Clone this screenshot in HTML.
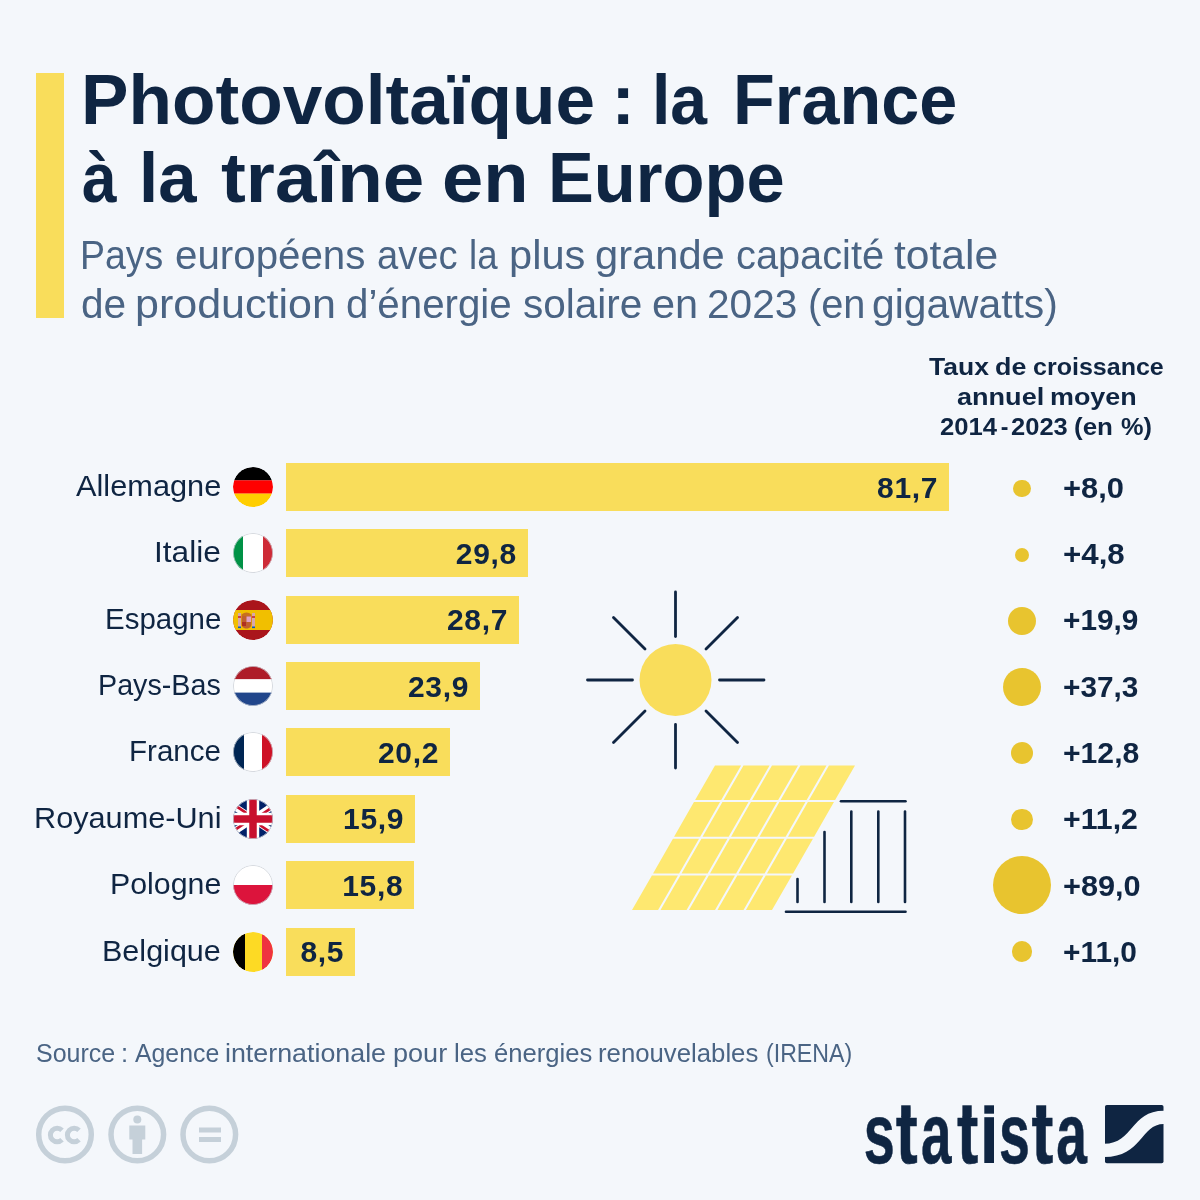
<!DOCTYPE html>
<html lang="fr">
<head>
<meta charset="utf-8">
<title>Photovoltaïque : la France à la traîne en Europe</title>
<style>
html,body{margin:0;padding:0;}
body{width:1200px;height:1200px;background:#f4f7fb;position:relative;overflow:hidden;font-family:"Liberation Sans",sans-serif;color:#0f2542;}
.abs{position:absolute;white-space:nowrap;}
#wrap{position:absolute;left:0;top:0;width:1200px;height:1200px;will-change:transform;}
#accent{left:36px;top:73px;width:28px;height:245px;background:#f9dd5b;}
.tw{position:absolute;white-space:nowrap;font-size:70px;font-weight:700;line-height:80px;color:#0f2542;transform-origin:0 0;}
.sw{position:absolute;white-space:nowrap;font-size:40px;line-height:48px;color:#4a6484;transform-origin:0 0;}
.hw{position:absolute;white-space:nowrap;font-size:23px;font-weight:700;line-height:30px;color:#0f2542;transform-origin:0 0;}
.lbl{position:absolute;font-size:30px;line-height:48px;margin-top:-1px;color:#0f2542;white-space:nowrap;transform-origin:0 0;}
.flag{position:absolute;left:233px;width:40px;height:40px;border-radius:50%;overflow:hidden;}
.bar{position:absolute;left:286px;height:48px;background:#f9dd5b;}
.val{position:absolute;white-space:nowrap;right:10.8px;top:0.5px;font-size:30px;font-weight:700;line-height:48px;letter-spacing:0.7px;color:#0f2542;}
.bub{position:absolute;border-radius:50%;background:#e8c42f;}
.gr{position:absolute;font-size:30px;font-weight:700;line-height:48px;transform-origin:0 0;white-space:nowrap;color:#0f2542;}
.srw{position:absolute;white-space:nowrap;top:1038.5px;font-size:25.5px;color:#4a6484;transform-origin:0 0;}
</style>
</head>
<body>
<div id="wrap">
<div id="accent" class="abs"></div>
<div class="tw" style="left:80.97px;top:60px;transform:scaleX(1.0170)">Photovoltaïque</div>
<div class="tw" style="left:611.38px;top:60px;transform:scaleX(1.0000)">:</div>
<div class="tw" style="left:651.76px;top:60px;transform:scaleX(0.9447)">la</div>
<div class="tw" style="left:732.66px;top:60px;transform:scaleX(0.9768)">France</div>
<div class="tw" style="left:81.74px;top:138px;transform:scaleX(0.8907)">à</div>
<div class="tw" style="left:138.62px;top:138px;transform:scaleX(0.9843)">la</div>
<div class="tw" style="left:220.90px;top:138px;transform:scaleX(1.0667)">traîne</div>
<div class="tw" style="left:442.39px;top:138px;transform:scaleX(1.0595)">en</div>
<div class="tw" style="left:548.34px;top:138px;transform:scaleX(0.9812)">Europe</div>
<div class="sw" style="left:80.36px;top:231px;transform:scaleX(0.9353)">Pays</div>
<div class="sw" style="left:174.54px;top:231px;transform:scaleX(1.0073)">européens</div>
<div class="sw" style="left:376.83px;top:231px;transform:scaleX(0.9529)">avec</div>
<div class="sw" style="left:468.88px;top:231px;transform:scaleX(0.9158)">la</div>
<div class="sw" style="left:509.10px;top:231px;transform:scaleX(1.0403)">plus</div>
<div class="sw" style="left:595.28px;top:231px;transform:scaleX(1.0421)">grande</div>
<div class="sw" style="left:735.56px;top:231px;transform:scaleX(0.9938)">capacité</div>
<div class="sw" style="left:894.07px;top:231px;transform:scaleX(1.0649)">totale</div>
<div class="sw" style="left:80.52px;top:280px;transform:scaleX(1.0146)">de</div>
<div class="sw" style="left:135.41px;top:280px;transform:scaleX(1.0757)">production</div>
<div class="sw" style="left:346.14px;top:280px;transform:scaleX(1.0068)">d’énergie</div>
<div class="sw" style="left:522.93px;top:280px;transform:scaleX(1.0126)">solaire</div>
<div class="sw" style="left:651.79px;top:280px;transform:scaleX(1.0360)">en</div>
<div class="sw" style="left:707.37px;top:280px;transform:scaleX(1.0147)">2023</div>
<div class="sw" style="left:807.52px;top:280px;transform:scaleX(0.9934)">(en</div>
<div class="sw" style="left:872.02px;top:280px;transform:scaleX(1.0191)">gigawatts)</div>
<div class="hw" style="left:929.11px;top:351.5px;transform:scaleX(1.1524)">Taux</div>
<div class="hw" style="left:994.83px;top:351.5px;transform:scaleX(1.1680)">de</div>
<div class="hw" style="left:1032.68px;top:351.5px;transform:scaleX(1.0880)">croissance</div>
<div class="hw" style="left:956.62px;top:381.5px;transform:scaleX(1.1763)">annuel</div>
<div class="hw" style="left:1049.50px;top:381.5px;transform:scaleX(1.1698)">moyen</div>
<div class="hw" style="left:939.96px;top:411.5px;transform:scaleX(1.1149)">2014</div>
<div class="hw" style="left:1000.85px;top:411.5px;transform:scaleX(1.0000)">-</div>
<div class="hw" style="left:1010.87px;top:411.5px;transform:scaleX(1.1095)">2023</div>
<div class="hw" style="left:1074.47px;top:411.5px;transform:scaleX(1.1287)">(en</div>
<div class="hw" style="left:1121.25px;top:411.5px;transform:scaleX(1.1019)">%)</div>

<div class="lbl" style="top:463.00px;left:76.00px;transform:scaleX(1.0249)">Allemagne</div>
<div class="flag" style="top:467.00px"><svg width="40" height="40" viewBox="0 0 40 40"><defs><clipPath id="c_de"><circle cx="20" cy="20" r="20"/></clipPath></defs><g clip-path="url(#c_de)"><rect width="40" height="13.4" fill="#000"/><rect y="13.3" width="40" height="13.4" fill="#f00"/><rect y="26.6" width="40" height="13.4" fill="#ffce00"/></g></svg></div>
<div class="bar" style="top:463.00px;width:663.0px"><span class="val">81,7</span></div>
<div class="bub" style="left:1013.06px;top:479.56px;width:17.89px;height:17.89px"></div>
<div class="gr" style="top:463.50px;left:1063.31px;transform:scaleX(1.0291)">+8,0</div>
<div class="lbl" style="top:529.36px;left:154.30px;transform:scaleX(1.0555)">Italie</div>
<div class="flag" style="top:533.36px"><svg width="40" height="40" viewBox="0 0 40 40"><defs><clipPath id="c_it"><circle cx="20" cy="20" r="20"/></clipPath></defs><g clip-path="url(#c_it)"><rect width="40" height="40" fill="#fff"/><rect width="10" height="40" fill="#009246"/><rect x="30" width="10" height="40" fill="#ce2b37"/></g><circle cx="20" cy="20" r="19.6" fill="none" stroke="#c9ced6" stroke-width="0.8"/></svg></div>
<div class="bar" style="top:529.36px;width:241.8px"><span class="val">29,8</span></div>
<div class="bub" style="left:1015.00px;top:547.63px;width:14.00px;height:14.00px"></div>
<div class="gr" style="top:529.86px;left:1063.30px;transform:scaleX(1.0421)">+4,8</div>
<div class="lbl" style="top:595.72px;left:104.84px;transform:scaleX(0.9821)">Espagne</div>
<div class="flag" style="top:599.72px"><svg width="40" height="40" viewBox="0 0 40 40"><defs><clipPath id="c_es"><circle cx="20" cy="20" r="20"/></clipPath></defs><g clip-path="url(#c_es)"><rect width="40" height="40" fill="#aa151b"/><rect y="10" width="40" height="20" fill="#f1bf00"/><rect x="5" y="13" width="3" height="15" fill="#d8a8a8"/><rect x="19" y="13" width="3" height="15" fill="#d8a8a8"/><rect x="5" y="16" width="3" height="2" fill="#c8414b"/><rect x="19" y="16" width="3" height="2" fill="#c8414b"/><path d="M8.5 14.5q5-4 10 0v1.5h-10z" fill="#c8701e"/><path d="M8.5 16h10v8c0 3-2.3 4.5-5 4.5s-5-1.5-5-4.5z" fill="#c0602e"/><rect x="13.5" y="16.5" width="4.5" height="5.5" fill="#e0a0c8"/><rect x="9" y="22" width="4" height="4" fill="#b03020"/><rect x="5" y="26.5" width="3" height="1.6" fill="#0a5bb8"/><rect x="19" y="26.5" width="3" height="1.6" fill="#0a5bb8"/></g></svg></div>
<div class="bar" style="top:595.72px;width:232.9px"><span class="val">28,7</span></div>
<div class="bub" style="left:1008.09px;top:606.85px;width:27.83px;height:27.83px"></div>
<div class="gr" style="top:596.22px;left:1063.36px;transform:scaleX(0.9932)">+19,9</div>
<div class="lbl" style="top:662.08px;left:98.11px;transform:scaleX(0.9560)">Pays-Bas</div>
<div class="flag" style="top:666.08px"><svg width="40" height="40" viewBox="0 0 40 40"><defs><clipPath id="c_nl"><circle cx="20" cy="20" r="20"/></clipPath></defs><g clip-path="url(#c_nl)"><rect width="40" height="13.4" fill="#ae1c28"/><rect y="13.3" width="40" height="13.4" fill="#fff"/><rect y="26.6" width="40" height="13.4" fill="#21468b"/></g><circle cx="20" cy="20" r="19.6" fill="none" stroke="#c9ced6" stroke-width="0.8"/></svg></div>
<div class="bar" style="top:662.08px;width:193.9px"><span class="val">23,9</span></div>
<div class="bub" style="left:1003.07px;top:667.96px;width:37.85px;height:37.85px"></div>
<div class="gr" style="top:662.58px;left:1063.36px;transform:scaleX(0.9932)">+37,3</div>
<div class="lbl" style="top:728.44px;left:129.14px;transform:scaleX(0.9850)">France</div>
<div class="flag" style="top:732.44px"><svg width="40" height="40" viewBox="0 0 40 40"><defs><clipPath id="c_fr"><circle cx="20" cy="20" r="20"/></clipPath></defs><g clip-path="url(#c_fr)"><rect width="40" height="40" fill="#fff"/><rect width="11" height="40" fill="#002654"/><rect x="29" width="11" height="40" fill="#ce1126"/></g><circle cx="20" cy="20" r="19.6" fill="none" stroke="#c9ced6" stroke-width="0.8"/></svg></div>
<div class="bar" style="top:728.44px;width:163.9px"><span class="val">20,2</span></div>
<div class="bub" style="left:1010.78px;top:741.80px;width:22.45px;height:22.45px"></div>
<div class="gr" style="top:728.94px;left:1063.34px;transform:scaleX(1.0047)">+12,8</div>
<div class="lbl" style="top:794.80px;left:34.44px;transform:scaleX(1.0223)">Royaume-Uni</div>
<div class="flag" style="top:798.80px"><svg width="40" height="40" viewBox="0 0 40 40"><defs><clipPath id="c_uk"><circle cx="20" cy="20" r="20"/></clipPath></defs><g clip-path="url(#c_uk)"><rect width="40" height="40" fill="#012169"/><path d="M-10 0L50 40M50 0L-10 40" stroke="#fff" stroke-width="7"/><path d="M-9.3 -1.1L20.7 18.9M19.3 21.1L49.3 41.1M50.6 0.8L20.6 20.8M19.4 19.2L-10.6 39.2" stroke="#c8102e" stroke-width="2.6"/><path d="M20 0V40M0 20H40" stroke="#fff" stroke-width="12.4"/><path d="M20 0V40M0 20H40" stroke="#c8102e" stroke-width="7.5"/></g><circle cx="20" cy="20" r="19.6" fill="none" stroke="#c9ced6" stroke-width="0.8"/></svg></div>
<div class="bar" style="top:794.80px;width:129.0px"><span class="val">15,9</span></div>
<div class="bub" style="left:1011.48px;top:808.63px;width:21.04px;height:21.04px"></div>
<div class="gr" style="top:795.30px;left:1063.34px;transform:scaleX(1.0091)">+11,2</div>
<div class="lbl" style="top:861.16px;left:109.87px;transform:scaleX(1.0103)">Pologne</div>
<div class="flag" style="top:865.16px"><svg width="40" height="40" viewBox="0 0 40 40"><defs><clipPath id="c_pl"><circle cx="20" cy="20" r="20"/></clipPath></defs><g clip-path="url(#c_pl)"><rect width="40" height="20" fill="#fff"/><rect y="20" width="40" height="20" fill="#dc143c"/></g><circle cx="20" cy="20" r="19.6" fill="none" stroke="#c9ced6" stroke-width="0.8"/></svg></div>
<div class="bar" style="top:861.16px;width:128.2px"><span class="val">15,8</span></div>
<div class="bub" style="left:992.94px;top:856.22px;width:58.11px;height:58.11px"></div>
<div class="gr" style="top:861.66px;left:1063.32px;transform:scaleX(1.0231)">+89,0</div>
<div class="lbl" style="top:927.52px;left:102.46px;transform:scaleX(1.0177)">Belgique</div>
<div class="flag" style="top:931.52px"><svg width="40" height="40" viewBox="0 0 40 40"><defs><clipPath id="c_be"><circle cx="20" cy="20" r="20"/></clipPath></defs><g clip-path="url(#c_be)"><rect width="40" height="40" fill="#fdda24"/><rect width="12" height="40" fill="#000"/><rect x="29" width="11" height="40" fill="#ef3340"/></g></svg></div>
<div class="bar" style="top:927.52px;width:69.0px"><span class="val">8,5</span></div>
<div class="bub" style="left:1011.57px;top:940.98px;width:20.86px;height:20.86px"></div>
<div class="gr" style="top:928.02px;left:1063.35px;transform:scaleX(0.9965)">+11,0</div>
<svg class="abs" style="left:570px;top:580px" width="210" height="200" viewBox="570 580 210 200">
<g stroke="#0f2542" stroke-width="2.8" stroke-linecap="round" fill="none">
<line x1="675.5" y1="592" x2="675.5" y2="636.5"/><line x1="675.5" y1="724.5" x2="675.5" y2="768"/>
<line x1="587.5" y1="680" x2="632.5" y2="680"/><line x1="719.5" y1="680" x2="764" y2="680"/>
<line x1="613.5" y1="617.5" x2="645" y2="649"/><line x1="706" y1="711" x2="737.5" y2="742.5"/>
<line x1="737.5" y1="617.5" x2="706" y2="649"/><line x1="645" y1="711" x2="613.5" y2="742.5"/>
</g>
<circle cx="675.5" cy="680" r="36" fill="#f9dd5b"/>
</svg>
<svg class="abs" style="left:620px;top:750px" width="300" height="175" viewBox="620 750 300 175">
<path fill="#fee870" d="M715.00 765.50H741.08L721.19 800.12H695.11ZM743.48 765.50H769.56L749.67 800.12H723.59ZM771.96 765.50H798.04L778.15 800.12H752.07ZM800.44 765.50H826.52L806.63 800.12H780.55ZM828.92 765.50H855.00L835.11 800.12H809.03ZM693.96 802.12H720.04L700.15 836.75H674.07ZM722.44 802.12H748.52L728.63 836.75H702.55ZM750.92 802.12H777.00L757.11 836.75H731.03ZM779.40 802.12H805.48L785.59 836.75H759.51ZM807.88 802.12H833.96L814.07 836.75H787.99ZM672.93 838.75H699.01L679.12 873.38H653.04ZM701.41 838.75H727.49L707.60 873.38H681.52ZM729.89 838.75H755.97L736.08 873.38H710.00ZM758.37 838.75H784.45L764.56 873.38H738.48ZM786.85 838.75H812.93L793.04 873.38H766.96ZM651.89 875.38H677.97L658.08 910.00H632.00ZM680.37 875.38H706.45L686.56 910.00H660.48ZM708.85 875.38H734.93L715.04 910.00H688.96ZM737.33 875.38H763.41L743.52 910.00H717.44ZM765.81 875.38H791.89L772.00 910.00H745.92Z"/>
<g stroke="#0f2542" stroke-width="2.6" stroke-linecap="round" fill="none">
<line x1="841" y1="801.3" x2="905.5" y2="801.3"/>
<line x1="786" y1="911.7" x2="905.5" y2="911.7"/>
<line x1="797.5" y1="879" x2="797.5" y2="902"/>
<line x1="824.5" y1="832" x2="824.5" y2="902"/>
<line x1="851.3" y1="811.5" x2="851.3" y2="902"/>
<line x1="878.3" y1="811.5" x2="878.3" y2="902"/>
<line x1="905" y1="811.5" x2="905" y2="902"/>
</g>
</svg>
<svg class="abs" style="left:30px;top:1100px" width="220" height="70" viewBox="30 1100 220 70">
<g fill="none" stroke="#c5d0d9" stroke-width="5.5">
<path d="M62 1130.2A6.8 6.8 0 1 0 62 1139.8" stroke-width="5"/><path d="M79 1130.2A6.8 6.8 0 1 0 79 1139.8" stroke-width="5"/>
<circle cx="65" cy="1134.5" r="26.3"/><circle cx="137.3" cy="1134.5" r="26.3"/><circle cx="209.3" cy="1134.5" r="26.3"/>
</g>
<g fill="#c5d0d9">

<circle cx="137.3" cy="1119.5" r="4"/>
<rect x="129.3" y="1125.5" width="16" height="14"/>
<rect x="132.5" y="1138" width="9.6" height="16"/>
<rect x="199" y="1127.5" width="22" height="5"/>
<rect x="199" y="1137" width="22" height="5"/>
</g>
</svg>
<svg class="abs" style="left:850px;top:1090px" width="330" height="90" viewBox="850 1090 330 90">
<g font-family="Liberation Sans" font-weight="700" font-size="86" fill="#0f2542" stroke="#0f2542" stroke-width="0.6">
<text transform="translate(863.65 1162.5) scale(0.6492 1)">s</text>
<text transform="translate(895.71 1162.5) scale(0.7677 1)">t</text>
<text transform="translate(921.11 1162.5) scale(0.6370 1)">a</text>
<text transform="translate(956.93 1162.5) scale(0.7451 1)">t</text>
<text transform="translate(999.05 1162.5) scale(0.6468 1)">s</text>
<text transform="translate(1031.51 1162.5) scale(0.7639 1)">t</text>
<text transform="translate(1056.20 1162.5) scale(0.6414 1)">a</text>
</g>
<rect x="984.3" y="1105.3" width="9.7" height="8.4" fill="#0f2542"/>
<rect x="984.3" y="1117.2" width="9.7" height="45.8" fill="#0f2542"/>
<rect x="901.2" y="1105.3" width="9.4" height="12" fill="#0f2542"/><rect x="962.4" y="1105.3" width="9.3" height="12" fill="#0f2542"/><rect x="1036.2" y="1105.3" width="10" height="12" fill="#0f2542"/>
<rect x="1105" y="1105" width="58.5" height="58.3" rx="1.8" fill="#0f2542"/>
<path d="M1104 1143.8C1134 1143.8 1130 1110.8 1164 1110.8V1123.9C1140 1123.9 1143 1156.9 1104 1156.9Z" fill="#f4f7fb"/>
</svg>

<div class="srw" style="left:35.77px;transform:scaleX(0.9808)">Source</div>
<div class="srw" style="left:120.88px;transform:scaleX(1.0000)">:</div>
<div class="srw" style="left:135.00px;transform:scaleX(0.9736)">Agence</div>
<div class="srw" style="left:225.16px;transform:scaleX(1.0516)">internationale</div>
<div class="srw" style="left:392.64px;transform:scaleX(1.0615)">pour</div>
<div class="srw" style="left:454.49px;transform:scaleX(1.0084)">les</div>
<div class="srw" style="left:493.99px;transform:scaleX(1.0052)">énergies</div>
<div class="srw" style="left:598.23px;transform:scaleX(1.0096)">renouvelables</div>
<div class="srw" style="left:766.14px;transform:scaleX(0.9076)">(IRENA)</div>
</div>
</body>
</html>
